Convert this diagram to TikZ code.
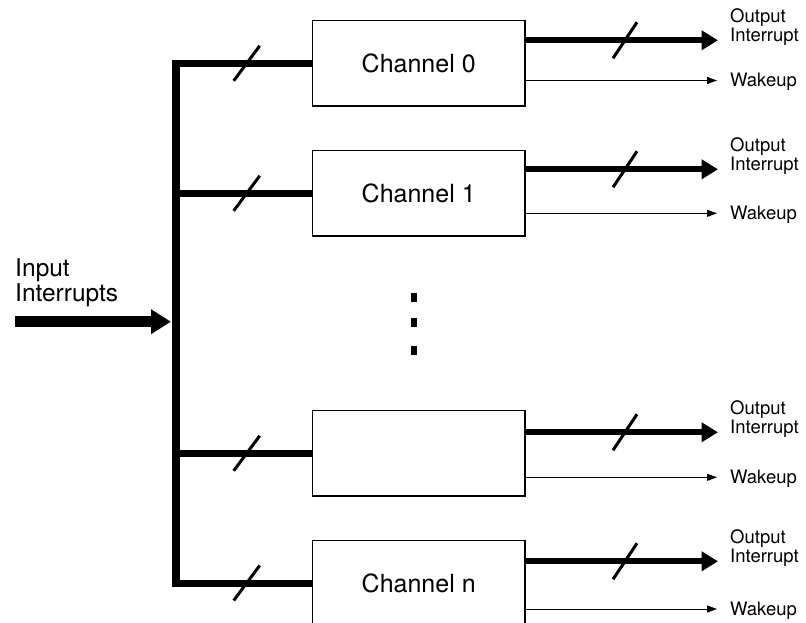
\documentclass[tikz,border=0pt]{standalone}
\usepackage{fontspec}
\setmainfont{TeX Gyre Heros}
\usetikzlibrary{arrows.meta}
\begin{document}
\begin{tikzpicture}[x=1pt,y=-1pt,
  chbox/.style={draw, line width=1.3pt, minimum width=212.7pt, minimum height=85.5pt, inner sep=0pt, font=\fontsize{25}{30}\selectfont},
  lbl/.style={inner sep=0pt, anchor=base west, font=\fontsize{18.5}{22}\selectfont},
  inlbl/.style={inner sep=0pt, anchor=base west, font=\fontsize{24.5}{29}\selectfont},
  busline/.style={line width=8pt},
  branch/.style={line width=7pt},
  outbus/.style={line width=6pt, -{Triangle[length=16.5pt,width=19pt]}},
  wake/.style={line width=1pt, -{Triangle[length=10pt,width=7pt]}},
  slashmark/.style={line width=3pt},
  inarrow/.style={line width=10.5pt, -{Triangle[length=20pt,width=23.5pt]}},
]
\path[use as bounding box] (0,0) rectangle (806,623);
\clip (0,0) rectangle (806,623);

% channel boxes
\node[chbox] (c0) at (418.7,63.3) {Channel 0};
\node[chbox] (c1) at (418.7,193.3) {Channel 1};
\node[chbox] (c2) at (418.7,453.3) {};
\node[chbox] (cn) at (418.7,583) {Channel n};

% bus
\coordinate (bt) at (176,59.8);
\coordinate (bb) at (176,586.5);
\draw[busline] (bt) -- (bb);
\foreach \c/\cy in {c0/63.3,c1/193.3,c2/453.3,cn/583}{
  \draw[branch] (bt |- \c.west) -- (\c.west);
  \draw[slashmark] (246.7,\cy) ++(-13,17.5) -- ++(26,-35);
}

% input
\coordinate (inS) at (15,321.7);
\coordinate (inE) at (171,321.7);
\draw[inarrow] (inS) -- (inE);
\node[inlbl] (inA) at (15,276) {Input};
\node[inlbl] (inB) at (15,301.7) {Interrupts};

% outputs
\foreach \c/\ty/\wy in {c0/40.3/80.5, c1/169.3/213.3, c2/432.3/477.3, cn/561.3/609}{
  \coordinate (o\c) at (718,\ty);
  \coordinate (w\c) at (717,\wy);
  \draw[outbus] (\c.east |- o\c) -- (o\c);
  \draw[wake] (\c.east |- w\c) -- (w\c);
  \draw[slashmark] (625,\ty) ++(-12,18) -- ++(24,-36);
  \node[lbl] (la\c) at (730,\ty-17.5) {Output};
  \node[lbl] (lb\c) at (730,\ty+1) {Interrupt};
  \node[lbl] (lw\c) at (730,\wy+6.5) {Wakeup};
}

% ellipsis dots
\fill (410.7,292.5) rectangle ++(6.7,9);
\fill (410.7,318.2) rectangle ++(6.7,9);
\fill (410.7,345.5) rectangle ++(6.7,9);
\end{tikzpicture}
\end{document}
